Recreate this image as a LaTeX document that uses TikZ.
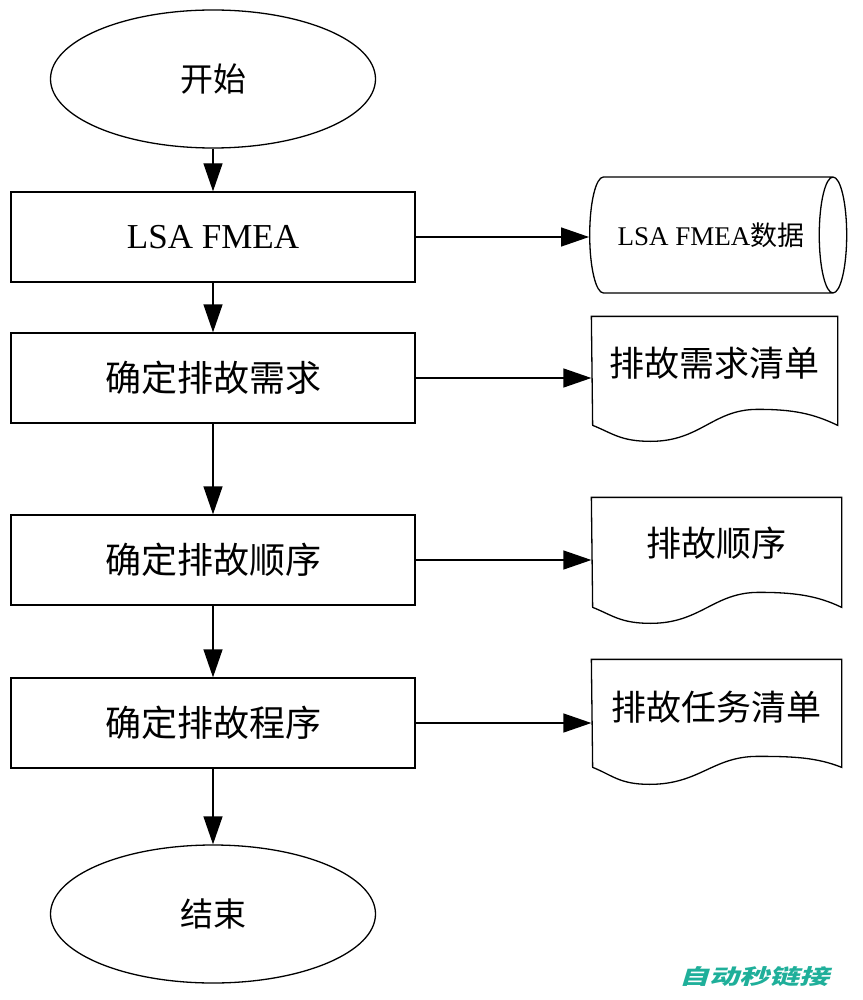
\documentclass[tikz,border=0pt]{standalone}
\usepackage{fontspec}
\setmainfont{Liberation Serif}
\newfontfamily\cjk{Noto Sans CJK SC}
\usetikzlibrary{shapes.geometric,arrows.meta}
\definecolor{wmteal}{HTML}{1FAF9A}
\begin{document}
\begin{tikzpicture}[x=1pt, y=-1pt, line width=1.3pt,
        term/.style={draw, ellipse, minimum width=325pt, minimum height=138pt, inner sep=0pt},
        proc/.style={draw, rectangle, minimum width=404pt, minimum height=90pt, inner sep=0pt},
        doc/.style={rectangle, inner sep=0pt, font=\cjk\fontsize{35pt}{40pt}\selectfont},
        arr/.style={-{Triangle[length=28pt, width=19pt]}}]
            \useasboundingbox (0,0) rectangle (862,1000);

            \node[term, font=\cjk\fontsize{33pt}{36pt}\selectfont] (start) at (213, 79) {开始};
            \node[proc, font=\fontsize{35pt}{40pt}\selectfont] (fmea) at (213,237) {LSA FMEA};
            \node[proc, font=\cjk\fontsize{36pt}{40pt}\selectfont] (need) at (213,378) {确定排故需求};
            \node[proc, font=\cjk\fontsize{36pt}{40pt}\selectfont] (order) at (213,560) {确定排故顺序};
            \node[proc, font=\cjk\fontsize{36pt}{40pt}\selectfont] (prog) at (213,723) {确定排故程序};
            \node[term, font=\cjk\fontsize{33pt}{36pt}\selectfont] (finish) at (213,914) {结束};

            \node[draw, cylinder, shape border rotate=0, aspect=1.1, minimum width=116pt, minimum height=257pt,
                  inner sep=0pt, font=\fontsize{27pt}{30pt}\selectfont] (fmeadata) at (711,235) {LSA FMEA{\cjk 数据}};
            \node[doc, minimum width=245pt, minimum height=92pt] (needlist) at (714.5,363) {排故需求清单};
            \node[doc, minimum width=249pt, minimum height=90pt] (orderlist) at (716.5,543) {排故顺序};
            \node[doc, minimum width=249pt, minimum height=94pt] (tasklist) at (716.5,707) {排故任务清单};

            % document outlines with wavy bottom
            \draw (needlist.north west) -- (needlist.north east) -- ++(0,109)
                .. controls +(-25,-12) and +(35,0) .. ++(-80,-16)
                .. controls +(-45,0) and +(50,0) .. ++(-107,32)
                .. controls +(-30,0) and +(20,8) .. ++(-58,-16) -- cycle;
            \draw (orderlist.north west) -- (orderlist.north east) -- ++(0,110)
                .. controls +(-25,-12) and +(35,0) .. ++(-83,-15)
                .. controls +(-45,0) and +(50,0) .. ++(-108,31)
                .. controls +(-30,0) and +(20,8) .. ++(-58,-16) -- cycle;
            \draw (tasklist.north west) -- (tasklist.north east) -- ++(0,108)
                .. controls +(-25,-10) and +(35,0) .. ++(-84,-11)
                .. controls +(-45,0) and +(50,0) .. ++(-108,28)
                .. controls +(-30,0) and +(20,8) .. ++(-57,-17) -- cycle;

            \draw[arr] (start) -- (fmea);
            \draw[arr] (fmea) -- (need);
            \draw[arr] (need) -- (order);
            \draw[arr] (order) -- (prog);
            \draw[arr] (prog) -- (finish);

            \draw[arr] (fmea.east) -- (fmea.east -| fmeadata.west);
            \draw[arr] (need.east) -- (need.east -| needlist.west);
            \draw[arr] (order.east) -- (order.east -| orderlist.west);
            \draw[arr] (prog.east) -- (prog.east -| tasklist.west);

            \node[font=\cjk\bfseries\fontsize{30pt}{30pt}\selectfont, text=wmteal, xslant=0.3, yscale=0.7] (mark) at (757,977) {自动秒链接};

        \end{tikzpicture}
\end{document}
